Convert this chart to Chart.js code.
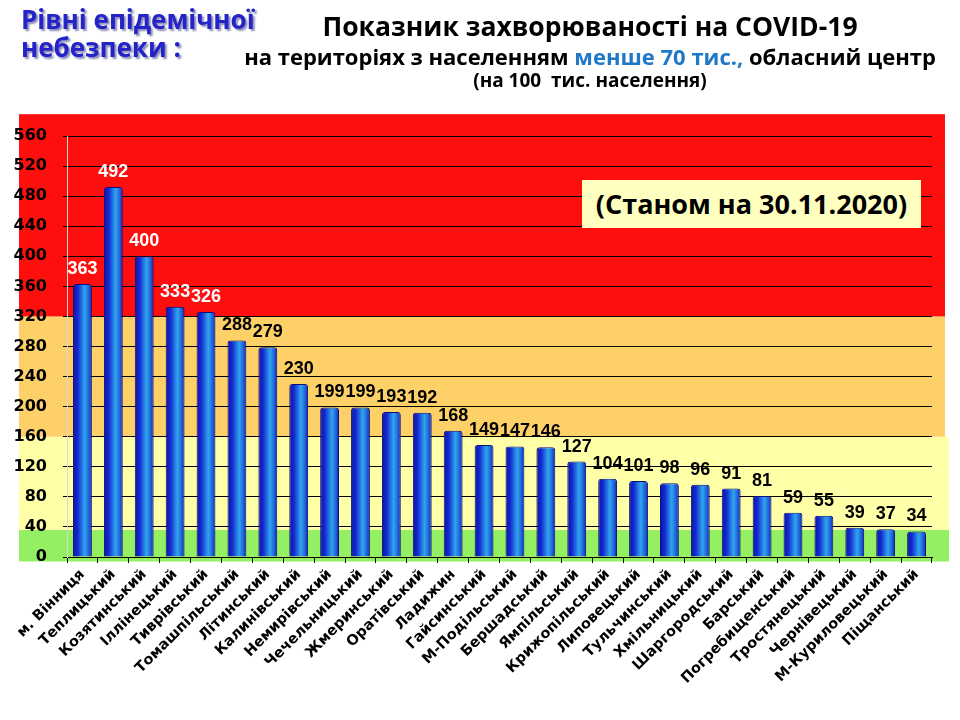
<!DOCTYPE html>
<html lang="uk">
<head>
<meta charset="utf-8">
<title>Показник захворюваності на COVID-19</title>
<script src="https://cdn.jsdelivr.net/npm/chart.js@4.4.1/dist/chart.umd.min.js"></script>
<style>
  html, body { margin: 0; padding: 0; background: #fff; }
  #wrap { position: relative; width: 960px; height: 720px; overflow: hidden; }
  #chart { position: absolute; left: 0; top: 0; }
  .levels { position: absolute; left: 21px; top: 5px; font: bold 26px/28px "Open Sans", sans-serif;
            color: #2323c8; text-shadow: 2px 2px 2px #8a8ab8; }
  .head { position: absolute; left: 240px; width: 700px; text-align: center; color: #000;
          font-family: "Open Sans", sans-serif; font-weight: bold; white-space: nowrap; }
  .l1 { top: 8px; font-size: 26.5px; }
  .l2 { top: 41px; font-size: 22px; }
  .l3 { top: 67px; font-size: 19px; }
  .l2 span { color: #1f78c8; }
  .date { position: absolute; left: 582px; top: 180px; width: 339px; height: 48px; background: #ffffc0;
          font: bold 27px/48px "Open Sans", sans-serif; text-align: center; color: #000; }
</style>
</head>
<body>
<div id="wrap">
  <canvas id="chart" width="960" height="720"></canvas>
  <div class="levels">Рівні епідемічної<br>небезпеки :</div>
  <div class="head l1">Показник захворюваності на COVID-19</div>
  <div class="head l2">на територіях з населенням <span>менше 70 тис.,</span> обласний центр</div>
  <div class="head l3">(на 100&nbsp; тис. населення)</div>
  <div class="date">(Станом на 30.11.2020)</div>
</div>
<script>
// districts and incidence per 100k
const districts = ['м. Вінниця', 'Теплицький', 'Козятинський', 'Іллінецький', 'Тиврівський',
  'Томашпільський', 'Літинський', 'Калинівський', 'Немирівський', 'Чечельницький', 'Жмеринський',
  'Оратівський', 'Ладижин', 'Гайсинський', 'М-Подільський', 'Бершадський', 'Ямпільський',
  'Крижопільський', 'Липовецький', 'Тульчинський', 'Хмільницький', 'Шаргородський', 'Барський',
  'Погребищенський', 'Тростянецький', 'Чернівецький', 'М-Куриловецький', 'Піщанський'];
const incidence = [363, 492, 400, 333, 326, 288, 279, 230, 199, 199, 193, 192, 168, 149, 147, 146,
  127, 104, 101, 98, 96, 91, 81, 59, 55, 39, 37, 34];

// y axis
const yMax = 560;
const yStep = 40;

// danger levels (band edges) and colours
const levelFrom = [-6, 36, 160, 320];
const levelTo = [36, 160, 320, 589];
const levelColors = ['#95ef63', '#ffffa8', '#fdd068', '#ff0e0e'];

const BAR_PCT = 0.61;

function barFill(ctx) {
  const chart = ctx.chart;
  const xs = chart.scales.x;
  if (!xs || !chart.chartArea || !xs.width) return '#1a3ad6';
  const cx = xs.getPixelForValue(ctx.dataIndex);
  const half = xs.width / districts.length * BAR_PCT / 2;
  const g = chart.ctx.createLinearGradient(cx - half, 0, cx + half, 0);
  g.addColorStop(0, '#0c16a0');
  g.addColorStop(0.25, '#1428d2');
  g.addColorStop(0.62, '#2fa6ec');
  g.addColorStop(0.85, '#1f5fdc');
  g.addColorStop(1, '#0c1ca8');
  return g;
}

const bands = {
  id: 'bands',
  beforeDraw(chart) {
    const { ctx, chartArea, scales: { y } } = chart;
    const left = chartArea.left - 48;
    ctx.save();
    levelFrom.forEach((v, i) => {
      const top = y.getPixelForValue(levelTo[i]);
      const bottom = y.getPixelForValue(v);
      const right = chartArea.right + (i < 2 ? 17 : 13);
      ctx.fillStyle = levelColors[i];
      ctx.fillRect(left, top, right - left, bottom - top);
    });
    ctx.restore();
  }
};

const valueLabels = {
  id: 'valueLabels',
  afterDatasetsDraw(chart) {
    const { ctx } = chart;
    const meta = chart.getDatasetMeta(0);
    ctx.save();
    ctx.font = 'bold 18px "Liberation Sans", Arial, sans-serif';
    ctx.textAlign = 'center';
    ctx.textBaseline = 'alphabetic';
    meta.data.forEach((bar, i) => {
      const v = incidence[i];
      ctx.fillStyle = v >= levelFrom[3] ? '#fff' : '#000';
      ctx.fillText(String(v), bar.x, bar.y - 10);
    });
    ctx.restore();
  }
};

new Chart(document.getElementById('chart'), {
  type: 'bar',
  data: {
    labels: districts,
    datasets: [{
      data: incidence,
      backgroundColor: barFill,
      borderColor: '#0a0f80',
      borderWidth: 1,
      borderRadius: { topLeft: 3, topRight: 3 },
      borderSkipped: 'bottom',
      barPercentage: BAR_PCT,
      categoryPercentage: 1
    }]
  },
  options: {
    responsive: false,
    animation: false,
    devicePixelRatio: 1,
    layout: { padding: { left: 5, top: 136, right: 28, bottom: 0 } },
    plugins: { legend: { display: false }, tooltip: { enabled: false } },
    scales: {
      x: {
        afterFit(scale) { scale.height = 163; },
        grid: { drawOnChartArea: false, drawTicks: true, tickLength: 6, color: '#000', offset: true },
        border: { color: '#000', width: 1 },
        ticks: {
          minRotation: 45, maxRotation: 45, padding: 3, color: '#000',
          font: { family: '"DejaVu Sans", sans-serif', weight: 'bold', size: 14.5 }
        }
      },
      y: {
        min: 0, max: yMax,
        afterFit(scale) { scale.width = 62; },
        grid: { color: '#000', lineWidth: 1, tickLength: 4 },
        border: { color: '#d8d8d8', width: 1 },
        ticks: {
          stepSize: yStep, padding: 16, color: '#000',
          font: { family: '"DejaVu Sans", sans-serif', weight: 'bold', size: 16 }
        }
      }
    }
  },
  plugins: [bands, valueLabels]
});
</script>
</body>
</html>
